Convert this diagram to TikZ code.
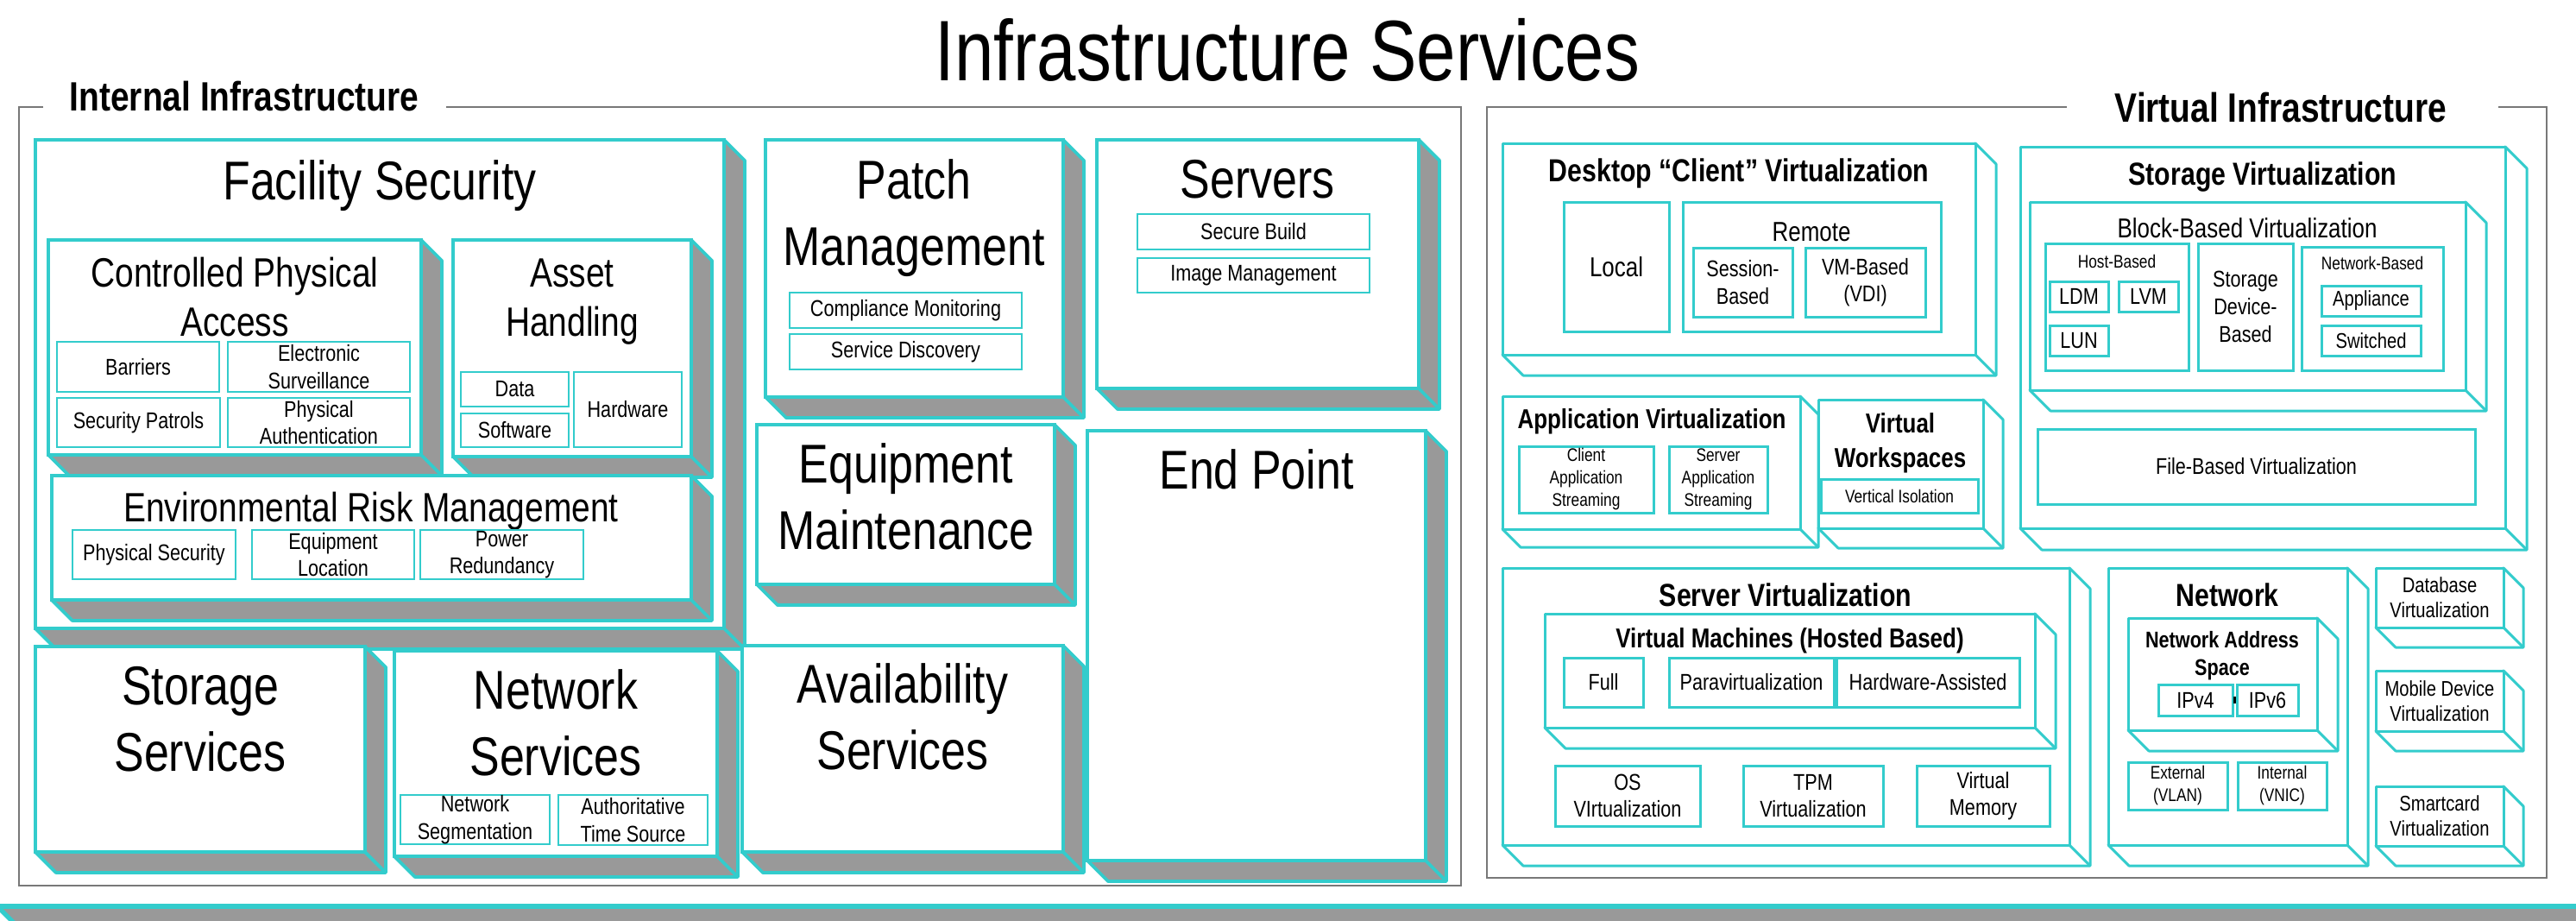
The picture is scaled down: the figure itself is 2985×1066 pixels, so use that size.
\documentclass[tikz,border=0pt]{standalone}
\usepackage{fontspec}
\setmainfont{Liberation Sans}[FakeStretch=0.82]
\definecolor{cy}{RGB}{51,204,204}
\definecolor{gf}{RGB}{153,153,153}
\definecolor{fr}{RGB}{120,120,120}
% 3D box with gray extrusion: #1 depth, #2 x1, #3 y1, #4 x2, #5 y2
\newcommand\gcube[5]{%
  \filldraw[gface] (#4,#3) -- ({#4+#1},{#3+#1}) -- ({#4+#1},{#5+#1}) -- ({#2+#1},{#5+#1}) -- (#2,#5) -- (#4,#5) -- cycle;
  \draw[gface] (#4,#5) -- ({#4+#1},{#5+#1});
  \filldraw[gfront] (#2,#3) rectangle (#4,#5);
}
% 3D box with white extrusion
\newcommand\wcube[5]{%
  \filldraw[wface] (#4,#3) -- ({#4+#1},{#3+#1}) -- ({#4+#1},{#5+#1}) -- ({#2+#1},{#5+#1}) -- (#2,#5) -- (#4,#5) -- cycle;
  \draw[wface] (#4,#5) -- ({#4+#1},{#5+#1});
  \filldraw[wface] (#2,#3) rectangle (#4,#5);
}
% flat box with centred text: #1 box style, #2..#5 corners, #6 text style, #7 text
\newcommand\sbx[7]{%
  \filldraw[#1] (#2,#3) rectangle (#4,#5);
  \node[#6] at ({(#2+#4)/2},{(#3+#5)/2}) {#7};
}
\begin{document}
\begin{tikzpicture}[x=0.01cm, y=-0.01cm,
  gface/.style={draw=cy, fill=gf, line width=1.1pt, line join=round},
  gfront/.style={draw=cy, fill=white, line width=1.1pt},
  wface/.style={draw=cy, fill=white, line width=0.85pt, line join=round},
  isub/.style={draw=cy, fill=white, line width=0.6pt},
  vsub/.style={draw=cy, fill=white, line width=0.85pt},
  frame/.style={draw=fr, line width=0.45pt},
  t283/.style={font=\fontsize{28.3}{34}\selectfont, inner sep=0pt},
  t18/.style={font=\fontsize{18}{21.7}\selectfont, align=center, inner sep=0pt},
  t135/.style={font=\fontsize{13.5}{16.2}\selectfont, align=center, inner sep=0pt},
  t135b/.style={font=\fontsize{13.5}{16.2}\selectfont\bfseries, inner sep=0pt},
  t105b/.style={font=\fontsize{10.5}{12.6}\selectfont\bfseries, align=center, inner sep=0pt},
  t9/.style={font=\fontsize{9}{10.8}\selectfont, align=center, inner sep=0pt},
  t9b/.style={font=\fontsize{9}{11.3}\selectfont\bfseries, align=center, inner sep=0pt},
  t75/.style={font=\fontsize{7.5}{9}\selectfont, align=center, inner sep=0pt},
  t75b/.style={font=\fontsize{7.5}{9.1}\selectfont\bfseries, align=center, inner sep=0pt},
  t7/.style={font=\fontsize{7}{8.4}\selectfont, align=center, inner sep=0pt},
  t6/.style={font=\fontsize{6}{7.4}\selectfont, align=center, inner sep=0pt}]
\useasboundingbox (0,0) rectangle (2985,1066);
\clip (0,0) rectangle (2985,1066);

% title
\node[t283, anchor=base] (title) at (1492,93) {Infrastructure Services};

% bottom strip
\fill[gf] (-3,1050) -- (2995,1050) -- (2995,1075) -- (22,1075) -- cycle;
\draw[cy, line width=1.5pt] (-3,1050) -- (2995,1050);
\draw[cy, line width=1.5pt] (-3,1050) -- (22,1075);

% frames
\draw[frame] (50,124) -- (22,124) -- (22,1026) -- (1693,1026) -- (1693,124) -- (517,124);
\node[t135b, anchor=base west] (intlab) at (80,128) {Internal Infrastructure};
\draw[frame] (2395,124) -- (1723,124) -- (1723,1017) -- (2951,1017) -- (2951,124) -- (2895,124);
\node[t135b, anchor=base west] (virtlab) at (2450,141) {Virtual Infrastructure};

% ---------------- Internal infrastructure ----------------
\gcube{24}{41}{162}{839}{728}
\node[t18, anchor=base] (fs) at (440,231) {Facility Security};

\gcube{24}{56}{278}{488}{527}
\node[t135, anchor=base] (cpa) at (272,389) {Controlled Physical\\Access};
\sbx{isub}{66}{396}{254}{454}{t75}{Barriers}
\sbx{isub}{264}{396}{475}{454}{t75}{Electronic\\Surveillance}
\sbx{isub}{66}{461}{255}{518}{t75}{Security Patrols}
\sbx{isub}{264}{461}{475}{518}{t75}{Physical\\Authentication}

\gcube{24}{525}{278}{801}{529}
\node[t135, anchor=base] (ah) at (663,389) {Asset\\Handling};
\sbx{isub}{534}{431}{659}{471}{t75}{Data}
\sbx{isub}{534}{479}{659}{518}{t75}{Software}
\sbx{isub}{665}{431}{790}{518}{t75}{Hardware}

\gcube{24}{60}{551}{801}{695}
\node[t135, anchor=base] (erm) at (430,604) {Environmental Risk Management};
\sbx{isub}{84}{614}{273}{671}{t75}{Physical Security}
\sbx{isub}{292}{614}{480}{671}{t75}{Equipment\\Location}
\sbx{isub}{487}{614}{676}{671}{t75}{Power\\Redundancy}

\gcube{24}{41}{749}{423}{987}
\node[t18, anchor=base] (ss) at (232,893) {Storage\\Services};

\gcube{24}{457}{754}{831}{992}
\node[t18, anchor=base] (ns) at (644,898) {Network\\Services};
\sbx{isub}{464}{921}{637}{978}{t75}{Network\\Segmentation}
\sbx{isub}{647}{921}{820}{979}{t75}{Authoritative\\Time Source}

\gcube{24}{887}{162}{1232}{460}
\node[t18, anchor=base] (pm) at (1059,307) {Patch\\Management};
\sbx{isub}{915}{339}{1184}{380}{t75}{Compliance Monitoring}
\sbx{isub}{915}{387}{1184}{428}{t75}{Service Discovery}

\gcube{24}{1271}{162}{1644}{450}
\node[t18, anchor=base] (srv) at (1457,229) {Servers};
\sbx{isub}{1318}{248}{1587}{289}{t75}{Secure Build}
\sbx{isub}{1318}{299}{1587}{339}{t75}{Image Management}

\gcube{24}{877}{492}{1222}{677}
\node[t18, anchor=base] (em) at (1050,636) {Equipment\\Maintenance};

\gcube{24}{1260}{499}{1652}{997}
\node[t18, anchor=base] (ep) at (1456,566) {End Point};

\gcube{24}{860}{748}{1232}{987}
\node[t18, anchor=base] (as) at (1046,891) {Availability\\Services};

% ---------------- Virtual infrastructure ----------------
\wcube{24}{1741}{166}{2289}{411}
\node[t105b, anchor=base] (dcv) at (2015,210) {Desktop “Client” Virtualization};
\sbx{vsub}{1812}{234}{1934}{384}{t9}{Local}
\filldraw[vsub] (1950,234) rectangle (2249,384);
\node[t9, anchor=base] (remote) at (2099,279) {Remote};
\sbx{vsub}{1962}{287}{2077}{367}{t75}{Session-\\Based}
\sbx{vsub}{2092}{287}{2231}{367}{t75}{VM-Based\\(VDI)}

\wcube{25}{2341}{170}{2903}{612}
\node[t105b, anchor=base] (sv) at (2622,214) {Storage Virtualization};
\wcube{24}{2352}{234}{2857}{452}
\node[t9, anchor=base] (bbv) at (2604,275) {Block-Based Virtualization};
\filldraw[vsub] (2370,282) rectangle (2536,429);
\node[t6, anchor=base] (hb) at (2453,310) {Host-Based};
\sbx{vsub}{2375}{326}{2443}{361}{t75}{LDM}
\sbx{vsub}{2455}{326}{2524}{361}{t75}{LVM}
\sbx{vsub}{2375}{377}{2443}{412}{t75}{LUN}
\sbx{vsub}{2547}{282}{2657}{429}{t75}{Storage\\Device-\\Based}
\filldraw[vsub] (2667,286) rectangle (2831,429);
\node[t6, anchor=base] (nb) at (2749,312) {Network-Based};
\sbx{vsub}{2690}{331}{2805}{366}{t7}{Appliance}
\sbx{vsub}{2690}{377}{2805}{412}{t7}{Switched}
\sbx{vsub}{2361}{497}{2868}{584}{t75}{File-Based Virtualization}

\wcube{21}{1741}{459}{2086}{613}
\node[t9b, anchor=base] (av) at (1914,496) {Application Virtualization};
\sbx{vsub}{1760}{517}{1916}{594}{t6}{Client\\Application\\Streaming}
\sbx{vsub}{1934}{517}{2048}{594}{t6}{Server\\Application\\Streaming}

\wcube{23}{2107}{463}{2298}{612}
\node[t9b, anchor=base] (vw) at (2202,541) {Virtual\\Workspaces};
\sbx{vsub}{2110}{555}{2292}{594}{t6}{Vertical Isolation}

\wcube{24}{1741}{658}{2398}{979}
\node[t105b, anchor=base] (serv) at (2069,702) {Server Virtualization};
\wcube{24}{1790}{711}{2358}{843}
\node[t9b, anchor=base] (vm) at (2074,750) {Virtual Machines (Hosted Based)};
\sbx{vsub}{1812}{762}{1904}{819}{t75}{Full}
\sbx{vsub}{1934}{762}{2125}{819}{t75}{Paravirtualization}
\sbx{vsub}{2128}{762}{2340}{819}{t75}{Hardware-Assisted}
\sbx{vsub}{1802}{887}{1970}{957}{t75}{OS\\VIrtualization}
\sbx{vsub}{2020}{887}{2182}{957}{t75}{TPM\\Virtualization}
\sbx{vsub}{2221}{887}{2375}{957}{t75}{Virtual\\Memory}

\wcube{24}{2443}{658}{2720}{979}
\node[t105b, anchor=base] (net) at (2581,702) {Network};
\wcube{24}{2466}{716}{2685}{846}
\node[t75b, anchor=base] (nas) at (2575,782) {Network Address\\Space};
\sbx{vsub}{2501}{793}{2587}{829}{t75}{IPv4}
\sbx{vsub}{2592}{793}{2663}{829}{t75}{IPv6}
\fill[black] (2588,807) rectangle (2591,815);
\sbx{vsub}{2466}{883}{2581}{938}{t6}{External\\(VLAN)}
\sbx{vsub}{2593}{883}{2696}{938}{t6}{Internal\\(VNIC)}

\wcube{23}{2753}{658}{2901}{727}
\node[t7] (dbv) at (2827,692) {Database\\Virtualization};
\wcube{23}{2753}{777}{2901}{847}
\node[t7] (mdv) at (2827,812) {Mobile Device\\Virtualization};
\wcube{23}{2753}{911}{2901}{980}
\node[t7] (scv) at (2827,945) {Smartcard\\Virtualization};
\end{tikzpicture}
\end{document}
